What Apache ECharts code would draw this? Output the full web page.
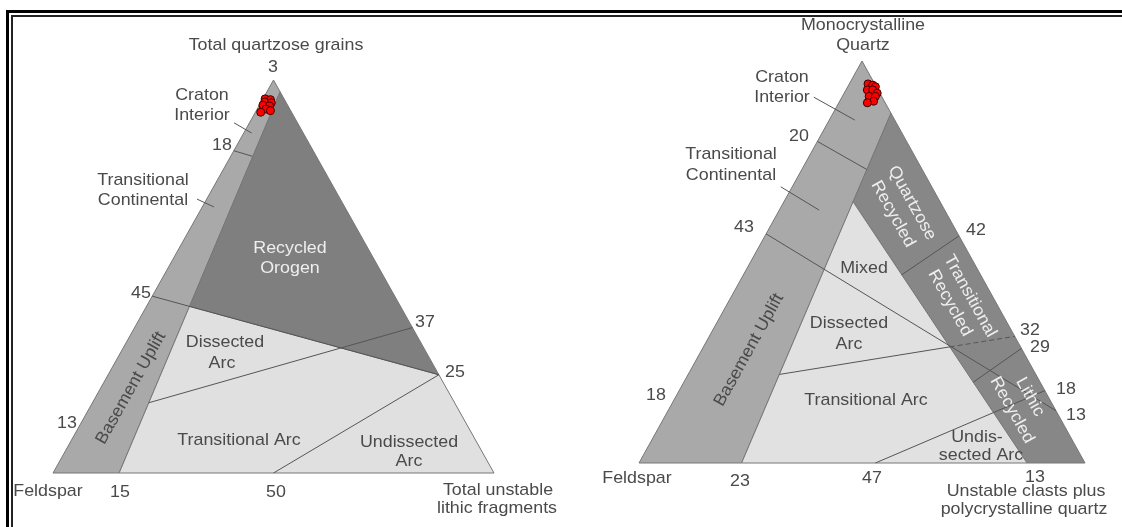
<!DOCTYPE html>
<html>
<head>
<meta charset="utf-8">
<script src="https://cdn.jsdelivr.net/npm/echarts@6/dist/echarts.min.js"></script>
<style>
  html, body { margin: 0; padding: 0; background: #fff; }
  #main { width: 1122px; height: 527px; }
</style>
</head>
<body>
<div id="main"></div>
<script>
// compositions are [top, left, right] in percent
// left diagram: Q (top), F (left), L (right)
var qflSamples = [
  [95.2, 4.3, 0.5], [95.0, 3.2, 1.8], [94.4, 4.8, 0.8], [94.2, 3.4, 2.4], [93.6, 5.6, 0.8],
  [93.4, 4.2, 2.4], [92.6, 5.4, 2.0], [92.2, 4.6, 3.2], [91.8, 7.0, 1.2]
];
var qflStrip = [[97, 0, 3], [0, 85, 15]];
var qflTick18 = [[82, 18, 0], [80.6, 14.5, 4.9]];
var qflLine45 = [[45, 55, 0], [25, 0, 75]];
var qflLine37 = [[37, 0, 63], [13, 87, 0]];
var qflLine50 = [[25, 0, 75], [0, 50, 50]];
var qflLeaders = [
  [[89.1, 14.4, -3.5], [86.5, 11.7, 1.8]],
  [[69.7, 32.5, -2.2], [67.7, 29.65, 2.65]]
];

// right diagram: Qm (top), F (left), Lt (right)
var qmSamples = [
  [94.3, 1.5, 4.2], [94.0, 0.6, 5.4], [93.6, 0.2, 6.2], [92.8, 2.4, 4.8], [92.8, 1.2, 6.0],
  [92.0, 0.6, 7.4], [91.2, 2.8, 6.0], [91.2, 1.4, 7.4], [90.0, 2.4, 7.6], [89.6, 4.0, 6.4]
];
var qmStrip = [[87, 0, 13], [0, 77, 23]];
var qmRecycledEdge = [[65, 19.5, 15.5], [0, 13, 87]];
var qmTick20 = [[80, 20, 0], [73, 12.4, 14.6]];
var qmLine43 = [[57, 43, 0], [13, 0, 87]];
var qmLine32 = [[18, 82, 0], [31.5, 0, 68.5]];
var qmLine42 = [[56.5, 0, 43.5], [46.8, 17.7, 35.5]];
var qmLine29 = [[28.5, 0, 71.5], [20.1, 15.0, 64.9]];
var qmLine47 = [[0, 47, 53], [18, 0, 82]];
var qmLeaders = [
  [[91.0, 15.3, -6.3], [85.3, 8.95, 5.75]],
  [[68.7, 33.85, -2.55], [62.9, 28.15, 8.95]]
];

var apexTop = [100, 0, 0], apexLeft = [0, 100, 0], apexRight = [0, 0, 100];

function xy(p) { return [p[2] + p[0] / 2, p[0]]; }
function meet(a, b) {
  var p = xy(a[0]), q = xy(a[1]), r = xy(b[0]), s = xy(b[1]);
  var d1 = [q[0] - p[0], q[1] - p[1]], d2 = [s[0] - r[0], s[1] - r[1]];
  var den = d1[0] * d2[1] - d1[1] * d2[0];
  var t = ((r[0] - p[0]) * d2[1] - (r[1] - p[1]) * d2[0]) / den;
  return [p[0] + t * d1[0], p[1] + t * d1[1]];
}

var ink = '#555555';
var series = [];

function regions(idx, list) {
  series.push({
    type: 'custom', xAxisIndex: idx, yAxisIndex: idx, silent: true, clip: false, z: 1,
    data: list.map(function (r, i) { return [i]; }),
    renderItem: function (params, api) {
      var r = list[params.dataIndex];
      return {
        type: 'polygon',
        shape: { points: r.pts.map(function (p) { return api.coord(p); }) },
        style: { fill: r.color, stroke: '#777777', lineWidth: 1 }
      };
    }
  });
}
function seg(idx, a, b, dashed) {
  series.push({
    type: 'line', xAxisIndex: idx, yAxisIndex: idx, silent: true, z: 3,
    symbol: 'none', data: [a, b],
    lineStyle: { color: ink, width: 1, type: dashed ? [5, 3] : 'solid' }
  });
}
function samples(idx, list) {
  series.push({
    type: 'scatter', xAxisIndex: idx, yAxisIndex: idx, z: 5,
    symbolSize: 8, data: list.map(xy),
    itemStyle: { color: '#ff0000', borderColor: '#3a0000', borderWidth: 1, opacity: 1 }
  });
}

// ---- left diagram
var qA = xy(qflStrip[0]), qB = xy(qflStrip[1]);
var q45 = meet(qflLine45, qflStrip), q25 = xy(qflLine45[1]);
regions(0, [
  { pts: [xy(apexTop), qA, qB, xy(apexLeft)], color: '#a9a9a9' },
  { pts: [qA, q25, q45], color: '#7f7f7f' },
  { pts: [q45, q25, xy(apexRight), qB], color: '#e0e0e0' }
]);
seg(0, xy(qflTick18[0]), xy(qflTick18[1]));
seg(0, xy(qflLine45[0]), q25);
seg(0, xy(qflLine37[0]), meet(qflLine37, qflStrip));
seg(0, xy(qflLine50[0]), xy(qflLine50[1]));
qflLeaders.forEach(function (l) { seg(0, xy(l[0]), xy(l[1])); });
samples(0, qflSamples);

// ---- right diagram
var mA = xy(qmStrip[0]), mB = xy(qmStrip[1]);
var mTop = xy(qmRecycledEdge[0]), mBase = xy(qmRecycledEdge[1]);
regions(1, [
  { pts: [xy(apexTop), mA, mB, xy(apexLeft)], color: '#a9a9a9' },
  { pts: [mA, mTop, mBase, xy(apexRight)], color: '#878787' },
  { pts: [mTop, mB, mBase], color: '#e1e1e1' }
]);
seg(1, xy(qmTick20[0]), xy(qmTick20[1]));
seg(1, xy(qmLine43[0]), xy(qmLine43[1]));
var s32a = meet(qmLine32, qmStrip), s32b = meet(qmLine32, qmRecycledEdge);
seg(1, s32a, s32b);
seg(1, s32b, xy(qmLine32[1]), true);
seg(1, xy(qmLine42[0]), xy(qmLine42[1]));
seg(1, xy(qmLine29[0]), xy(qmLine29[1]));
seg(1, xy(qmLine47[0]), xy(qmLine47[1]));
qmLeaders.forEach(function (l) { seg(1, xy(l[0]), xy(l[1])); });
samples(1, qmSamples);

// ---- text
var dark = '#4a4a4a', pale = '#eeeeee';
var labels = [
  // text, x, y, rotation (deg), colour
  ['Total quartzose grains', 276, 45], ['3', 273, 67],
  ['Craton', 202, 95], ['Interior', 202, 115], ['18', 222, 145],
  ['Transitional', 143, 180], ['Continental', 143, 200],
  ['Recycled', 290, 248, 0, pale], ['Orogen', 290, 268, 0, pale],
  ['45', 141, 293], ['Dissected', 225, 342], ['Arc', 222, 363],
  ['37', 425, 322], ['25', 455, 372], ['Basement Uplift', 131, 388, 60.7],
  ['13', 67, 423], ['Transitional Arc', 239, 440],
  ['Undissected', 409, 442], ['Arc', 409, 461],
  ['Feldspar', 48, 491], ['15', 120, 492], ['50', 276, 492],
  ['Total unstable', 498, 490], ['lithic fragments', 497, 508],

  ['Monocrystalline', 863, 25], ['Quartz', 863, 45],
  ['Craton', 782, 77], ['Interior', 782, 97], ['20', 799, 136],
  ['Transitional', 731, 154], ['Continental', 731, 175], ['43', 744, 227],
  ['Quartzose', 912, 203, -61, pale], ['Recycled', 893, 214, -61, pale], ['42', 976, 230],
  ['Mixed', 864, 268], ['Transitional', 970, 296, -61, pale], ['Recycled', 950, 303, -61, pale],
  ['Dissected', 849, 323], ['Arc', 849, 344], ['32', 1030, 330], ['29', 1040, 347],
  ['Basement Uplift', 749, 350, 61], ['18', 656, 395], ['Transitional Arc', 866, 400],
  ['18', 1066, 389], ['13', 1076, 415],
  ['Lithic', 1030, 397, -61, pale], ['Recycled', 1012, 410, -61, pale],
  ['Undis-', 977, 437], ['sected Arc', 981, 455],
  ['Feldspar', 637, 478], ['23', 740, 481], ['47', 872, 478], ['13', 1035, 477],
  ['Unstable clasts plus', 1026, 491], ['polycrystalline quartz', 1024, 509]
];

var graphics = labels.map(function (l) {
  return {
    type: 'text', x: l[1], y: l[2], z: 100, silent: true,
    rotation: (l[3] || 0) * Math.PI / 180, scaleX: 1.05,
    style: {
      text: l[0], fill: l[4] || dark,
      font: '17px "Liberation Sans", Arial, sans-serif',
      align: 'center', verticalAlign: 'middle',
      textAlign: 'center', textVerticalAlign: 'middle'
    }
  };
});
// double frame along the top and left edges
graphics.push(
  { type: 'rect', shape: { x: 6, y: 10, width: 1116, height: 3 }, style: { fill: '#000' }, z: 100 },
  { type: 'rect', shape: { x: 11, y: 15, width: 1111, height: 2 }, style: { fill: '#222' }, z: 100 },
  { type: 'rect', shape: { x: 6, y: 10, width: 3, height: 517 }, style: { fill: '#000' }, z: 100 },
  { type: 'rect', shape: { x: 11, y: 15, width: 2, height: 512 }, style: { fill: '#222' }, z: 100 }
);

function axis(idx) {
  return { type: 'value', gridIndex: idx, min: 0, max: 100, show: false };
}

var chart = echarts.init(document.getElementById('main'));
chart.setOption({
  animation: false,
  backgroundColor: '#ffffff',
  grid: [
    { left: 53, top: 80, width: 441, height: 393 },
    { left: 639, top: 61, width: 446, height: 402 }
  ],
  xAxis: [axis(0), axis(1)],
  yAxis: [axis(0), axis(1)],
  series: series,
  graphic: graphics
});
</script>
</body>
</html>
